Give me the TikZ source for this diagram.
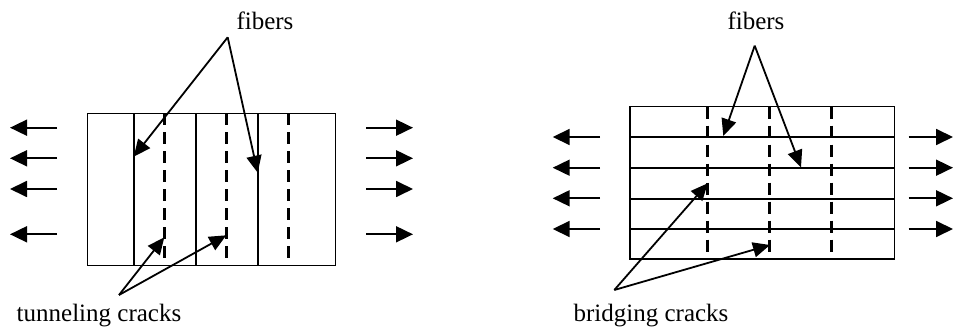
\documentclass[tikz,border=0pt]{standalone}
\usepackage{fontspec}
\setmainfont{Liberation Serif}
\usetikzlibrary{arrows.meta}
\begin{document}
\begin{tikzpicture}[x=1pt,y=-1pt,
  lbl/.style={font=\fontsize{25}{30}\selectfont, inner sep=0pt, anchor=base},
  frame/.style={line width=1.6pt},
  crackline/.style={line width=3pt, dash pattern=on 12pt off 7pt},
  pointer/.style={line width=1.8pt, -{Triangle[length=17pt,width=15pt]}},
  load/.style={line width=1.8pt, -{Triangle[length=17pt,width=16pt]}}]
\useasboundingbox (0,0) rectangle (953,328);
% ---------- left panel ----------
\draw[frame] (87.5,113.5) rectangle (335.5,265.5);
\foreach \x in {133.7,196,257.7}{\draw[frame] (\x,113.5) -- (\x,265.5);}
\foreach \x in {164.3,226.3,288.3}{\draw[crackline] (\x,113.5) -- (\x,265.5);}
\foreach \y [count=\i] in {127.7,158.3,189,234.3}{
  \coordinate (la\i) at (57,\y); \coordinate (lt\i) at (10,\y);
  \draw[load] (la\i) -- (lt\i);
  \coordinate (ra\i) at (366,\y); \coordinate (rt\i) at (413,\y);
  \draw[load] (ra\i) -- (rt\i);}
\node[lbl] (fibL) at (265,30) {fibers};
\coordinate (fibLapex) at (227.7,37.3);
\coordinate (fibLt1) at (133.7,156.7);
\coordinate (fibLt2) at (257.7,172.7);
\draw[pointer] (fibLapex) -- (fibLt1);
\draw[pointer] (fibLapex) -- (fibLt2);
\node[lbl] (tun) at (99,322) {tunneling cracks};
\coordinate (tunapex) at (119,295);
\coordinate (tunt1) at (164.3,237.3);
\coordinate (tunt2) at (226.3,235.3);
\draw[pointer] (tunapex) -- (tunt1);
\draw[pointer] (tunapex) -- (tunt2);
% ---------- right panel ----------
\draw[frame] (630,106.7) rectangle (894.3,259.3);
\foreach \y in {137,168.3,199,229}{\draw[frame] (630,\y) -- (894.3,\y);}
\foreach \x in {707.7,769.3,831.7}{\draw[crackline] (\x,106.7) -- (\x,259.3);}
\foreach \y [count=\i] in {137,167.7,198.3,229}{
  \coordinate (lb\i) at (600,\y); \coordinate (lbt\i) at (552.7,\y);
  \draw[load] (lb\i) -- (lbt\i);
  \coordinate (rb\i) at (908.7,\y); \coordinate (rbt\i) at (953,\y);
  \draw[load] (rb\i) -- (rbt\i);}
\node[lbl] (fibR) at (756,30) {fibers};
\coordinate (fibRapex) at (754.7,45.7);
\coordinate (fibRt1) at (723.3,136);
\coordinate (fibRt2) at (801,167.3);
\draw[pointer] (fibRapex) -- (fibRt1);
\draw[pointer] (fibRapex) -- (fibRt2);
\node[lbl] (bri) at (651,322) {bridging cracks};
\coordinate (briapex) at (614.3,290);
\coordinate (brit1) at (707.7,183.3);
\coordinate (brit2) at (770,245);
\draw[pointer] (briapex) -- (brit1);
\draw[pointer] (briapex) -- (brit2);
\end{tikzpicture}
\end{document}
